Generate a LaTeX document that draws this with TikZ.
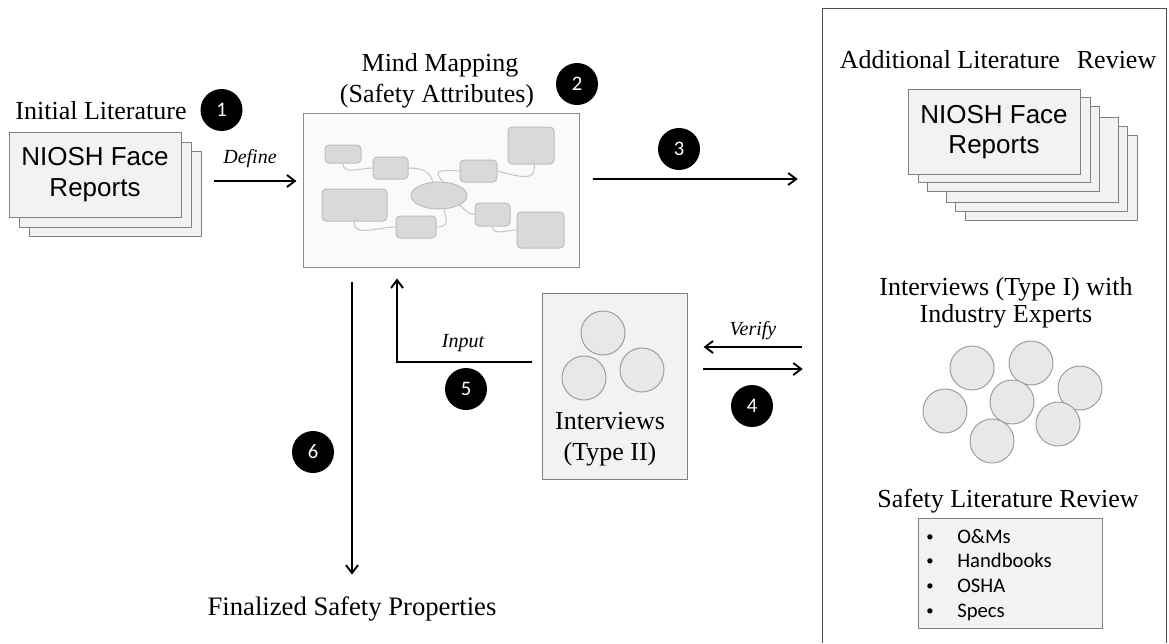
\documentclass[tikz,border=0pt]{standalone}
\usepackage{fontspec}
\setmainfont{Liberation Serif}
\newfontfamily\arialfont{Liberation Sans}
\newfontfamily\calfont{Carlito}
\usetikzlibrary{arrows.meta,shapes.geometric}

\definecolor{docfill}{HTML}{F2F2F2}
\definecolor{docline}{HTML}{808080}
\definecolor{mmfill}{HTML}{FAFAFA}
\definecolor{mmline}{HTML}{8C8C8C}
\definecolor{bubfill}{HTML}{D9D9D9}
\definecolor{bubline}{HTML}{BDBDBD}
\definecolor{linkgray}{HTML}{C4C4C4}
\definecolor{headfill}{HTML}{E8E8E8}
\definecolor{headline}{HTML}{9E9E9E}
\definecolor{frameline}{HTML}{505050}

\begin{document}
\begin{tikzpicture}[x=0.75pt,y=-0.75pt,
  doc/.style={draw=docline, fill=docfill, line width=0.75pt,
    minimum width=129pt, minimum height=63.75pt, inner sep=0pt,
    align=center, font=\arialfont\fontsize{19.5}{23}\selectfont},
  num/.style={circle, fill=black, minimum size=31.5pt, inner sep=0pt,
    text=white, font=\calfont\fontsize{15.5}{16}\selectfont},
  title/.style={inner sep=0pt, anchor=base, font=\fontsize{19.5}{23}\selectfont},
  verb/.style={inner sep=0pt, anchor=base, font=\itshape\fontsize{15}{18}\selectfont},
  arr/.style={line width=1.4pt, -{Straight Barb[length=6pt,width=9pt]}},
  bub/.style={draw=bubline, fill=bubfill, rounded corners=3pt, line width=0.75pt, inner sep=0pt},
  link/.style={draw=linkgray, line width=0.75pt},
  head/.style={circle, draw=headline, fill=headfill, line width=0.75pt,
    minimum size=33pt, inner sep=0pt},
  greybox/.style={draw=docline, fill=docfill, line width=0.75pt, inner sep=0pt},
  listtext/.style={inner sep=0pt, anchor=base west, font=\calfont\fontsize{15.5}{18}\selectfont},
  bullet/.style={inner sep=0pt, anchor=base, font=\calfont\fontsize{11}{12}\selectfont}]

\useasboundingbox (0,0) rectangle (1169,643);

% ---------- initial literature ----------
\node[title] (inittitle) at (101,119) {Initial Literature};
\node[num] (n1) at (221.5,110) {1};
\node[doc] (docL3) at (115,193.5) {};
\node[doc] (docL2) at (105,184.5) {};
\node[doc] (docL1) at (95,174.5) {NIOSH Face\\Reports};

% ---------- mind map ----------
\node[title] (mmtitleA) at (440,71) {Mind Mapping};
\node[title] (mmtitleB) at (437,102) {(Safety Attributes)};
\node[num] (n2) at (577,84) {2};
\node[draw=mmline, fill=mmfill, line width=0.75pt, minimum width=207pt,
  minimum height=115.5pt, inner sep=0pt] (mm) at (441,190) {};

\node[bub, minimum width=27pt, minimum height=13.5pt] (mA) at (343,154) {};
\node[bub, minimum width=26.25pt, minimum height=16.5pt] (mB) at (390.5,168) {};
\node[bub, minimum width=34.5pt, minimum height=27.75pt] (mC) at (531,145.5) {};
\node[bub, minimum width=27.75pt, minimum height=16.5pt] (mD) at (478.5,171) {};
\node[bub, minimum width=48.75pt, minimum height=24pt] (mE) at (354.5,205) {};
\node[ellipse, draw=bubline, fill=bubfill, line width=0.75pt, inner sep=0pt,
  minimum width=42pt, minimum height=20.25pt] (mCore) at (439,195.5) {};
\node[bub, minimum width=30pt, minimum height=16.5pt] (mF) at (416,227) {};
\node[bub, minimum width=26.25pt, minimum height=17.25pt] (mG) at (492.5,214.5) {};
\node[bub, minimum width=35.25pt, minimum height=27pt] (mH) at (540.5,230) {};

\draw[link] (mA.south) to[out=-90,in=180] (mB.west);
\draw[link] (mB.east) .. controls +(14,0) and +(-2,-10) .. (mCore.115);
\draw[link] (mD.west) .. controls +(-28,-2) and +(-6,-8) .. (mCore.75);
\draw[link] (mD.east) .. controls +(35,10) and +(0,12) .. (mC.-80);
\draw[link] (mE.south) to[out=-100,in=180] (mF.west);
\draw[link] (mF.east) .. controls +(14,0) and +(2,10) .. (mCore.-70);
\draw[link] (mCore.-25) to[out=-40,in=180] (mG.west);
\draw[link] (mG.south) to[out=-90,in=180] (mH.west);

% ---------- right panel ----------
\node[minimum width=257.25pt, minimum height=475.5pt, inner sep=0pt] (frame) at (994.5,326) {};
\draw[frameline, line width=0.9pt] (frame.south west) |- (frame.north east) -- (frame.south east);

\node[title] (addtitle) at (998,68) {Additional Literature\hspace{0.4em} Review};
\node[doc] (docR6) at (1051,178) {};
\node[doc] (docR5) at (1041,169) {};
\node[doc] (docR4) at (1032,160) {};
\node[doc] (docR3) at (1013,149) {};
\node[doc] (docR2) at (1004,140) {};
\node[doc] (docR1) at (994,132) {NIOSH Face\\Reports};

\node[title] (typeItitleA) at (1006,295) {Interviews (Type I) with};
\node[title] (typeItitleB) at (1006,322) {Industry Experts};
\node[head] (e1) at (972,368) {};
\node[head] (e2) at (1031,363) {};
\node[head] (e3) at (1080,388) {};
\node[head] (e4) at (1012,402) {};
\node[head] (e5) at (945,411) {};
\node[head] (e6) at (1058,424) {};
\node[head] (e7) at (992,441) {};

\node[title] (safetitle) at (1008,507) {Safety Literature Review};
\node[greybox, minimum width=138pt, minimum height=82.5pt] (litbox) at (1010,573) {};
\node[bullet] (b1) at (930,541) {•};
\node[listtext] (l1) at (957,543) {O\&Ms};
\node[bullet] (b2) at (930,565) {•};
\node[listtext] (l2) at (957,567) {Handbooks};
\node[bullet] (b3) at (930,590) {•};
\node[listtext] (l3) at (957,592) {OSHA};
\node[bullet] (b4) at (930,615) {•};
\node[listtext] (l4) at (957,617) {Specs};

% ---------- interviews type II ----------
\node[greybox, minimum width=108.75pt, minimum height=139.5pt] (intII) at (614.5,386) {};
\node[head] (h1) at (603,333) {};
\node[head] (h2) at (584,378) {};
\node[head] (h3) at (642,370) {};
\node[title] (intIIa) at (610,429) {Interviews};
\node[title] (intIIb) at (610,460) {(Type II)};

% ---------- final ----------
\node[inner sep=0pt, anchor=base, font=\fontsize{20}{24}\selectfont] (final) at (352,615) {Finalized Safety Properties};

% ---------- connectors ----------
\coordinate (defrow) at (0,181);
\draw[arr, shorten <=9pt, shorten >=4.5pt] (docL3.east |- defrow) -- (mm.west |- defrow);
\node[verb] (define) at (250,163) {Define};

\coordinate (row3) at (0,179);
\node[num] (n3) at (679,149) {3};
\draw[arr, shorten <=9.75pt, shorten >=18.75pt] (mm.east |- row3) -- (frame.west |- row3);

\coordinate (verifyrow) at (0,347);
\coordinate (fourrow) at (0,369);
\draw[arr, shorten <=15.75pt, shorten >=12pt] (frame.west |- verifyrow) -- (intII.east |- verifyrow);
\node[verb] (verify) at (753,335) {Verify};
\draw[arr, shorten <=11.25pt, shorten >=15pt] (intII.east |- fourrow) -- (frame.west |- fourrow);
\node[num] (n4) at (752,406) {4};

\coordinate (inputcorner) at (397,362);
\draw[arr, shorten <=7.5pt, shorten >=8.25pt] (intII.west |- inputcorner) -| (mm.south -| inputcorner);
\node[verb] (input) at (463,347) {Input};
\node[num] (n5) at (466,389) {5};

\coordinate (sixcol) at (352,0);
\draw[arr, shorten <=10.5pt, shorten >=16pt] (mm.south -| sixcol) -- (final.north -| sixcol);
\node[num] (n6) at (313,452) {6};
\end{tikzpicture}
\end{document}
